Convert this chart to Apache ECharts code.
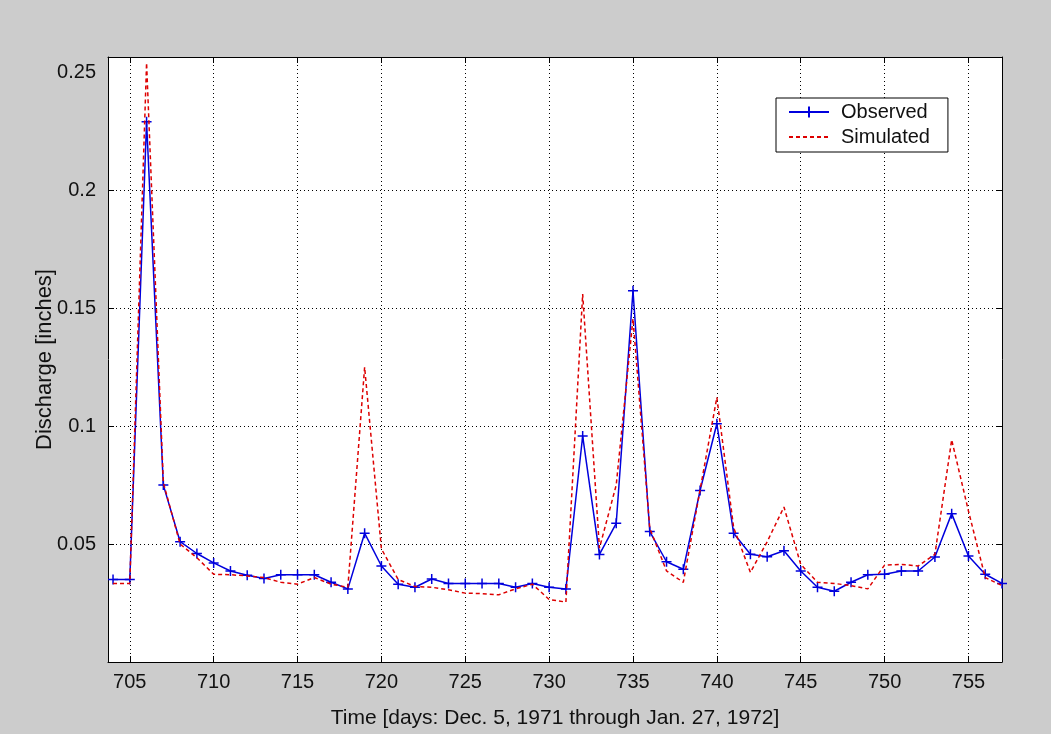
<!DOCTYPE html>
<html>
<head>
<meta charset="utf-8">
<script src="https://cdn.jsdelivr.net/npm/echarts@6/dist/echarts.min.js"></script>
<style>
html,body{margin:0;padding:0;background:#cccccc;}
#chart{width:1051px;height:734px;}
</style>
</head>
<body>
<div id="chart"></div>
<script>
var days = [704,705,706,707,708,709,710,711,712,713,714,715,716,717,718,719,720,721,722,723,724,725,726,727,728,729,730,731,732,733,734,735,736,737,738,739,740,741,742,743,744,745,746,747,748,749,750,751,752,753,754,755,756,757];
var observed = [0.035,0.035,0.229,0.075,0.051,0.046,0.042,0.0386,0.0368,0.0354,0.037,0.037,0.037,0.0338,0.031,0.0546,0.0407,0.033,0.0317,0.0352,0.0333,0.0333,0.0333,0.0333,0.0317,0.0333,0.0317,0.031,0.0958,0.0456,0.0588,0.1574,0.0553,0.0425,0.0393,0.0727,0.101,0.0546,0.0457,0.0446,0.0472,0.0386,0.0317,0.030,0.0338,0.037,0.0372,0.0386,0.0386,0.0445,0.0629,0.0449,0.0372,0.0333];
var simulated = [0.0333,0.0333,0.254,0.076,0.050,0.0442,0.0372,0.037,0.0365,0.0358,0.0338,0.033,0.0358,0.033,0.0317,0.125,0.048,0.035,0.032,0.0317,0.0306,0.0292,0.029,0.0285,0.031,0.033,0.0265,0.0254,0.156,0.0483,0.075,0.1456,0.0567,0.0386,0.0338,0.073,0.1122,0.057,0.038,0.051,0.0657,0.0414,0.0338,0.0333,0.0324,0.031,0.0411,0.0414,0.0407,0.0456,0.0942,0.064,0.0358,0.0324];
var xTicks = [705,710,715,720,725,730,735,740,745,750,755];
var yTickLabels = [0.05,0.1,0.15,0.2,0.25];
var yTickMarks = [0.05,0.1,0.15,0.2];
var xTitle = 'Time [days: Dec. 5, 1971 through Jan. 27, 1972]';
var yTitle = 'Discharge [inches]';

function pairs(xs, ys){ return xs.map(function(x,i){ return [x, ys[i]]; }); }

var FONT = "'Liberation Sans', Arial, Helvetica, sans-serif";
var chart = echarts.init(document.getElementById('chart'));
var XMIN = 703.7, XMAX = 757, YMIN = 0, YMAX = 0.2565;
var dotted = {color:'#000', width:1, type:[1,3]};

chart.setOption({
  backgroundColor:'#cccccc',
  animation:false,
  grid:{left:108, top:57, right:49, bottom:61, show:true, backgroundColor:'#ffffff', borderWidth:0},
  legend:{
    left:776, top:98, orient:'vertical',
    backgroundColor:'#ffffff', borderColor:'#000', borderWidth:1,
    padding:[4,18,5,12], itemWidth:40, itemHeight:14, itemGap:5,
    textStyle:{fontFamily:FONT, fontSize:20, color:'#111', lineHeight:20, padding:[0,0,0,7]},
    data:[{name:'Observed'},{name:'Simulated', itemStyle:{opacity:0}}]
  },
  xAxis:[{
    type:'value', min:XMIN, max:XMAX, position:'bottom',
    name:xTitle, nameLocation:'middle', nameGap:46,
    nameTextStyle:{fontFamily:FONT, fontSize:21, color:'#111'},
    axisLine:{show:true, onZero:false, lineStyle:{color:'#000', width:1}},
    axisTick:{show:true, inside:true, length:6, customValues:xTicks, lineStyle:{color:'#000'}},
    axisLabel:{customValues:xTicks, fontFamily:FONT, fontSize:20, color:'#111', margin:10},
    splitLine:{show:true, lineStyle:dotted}
  },{
    type:'value', min:XMIN, max:XMAX, position:'top',
    axisLine:{show:true, onZero:false, lineStyle:{color:'#000', width:1}},
    axisTick:{show:true, inside:true, length:6, customValues:xTicks, lineStyle:{color:'#000'}},
    axisLabel:{show:false},
    splitLine:{show:false}
  }],
  yAxis:[{
    type:'value', min:YMIN, max:YMAX, position:'left',
    name:yTitle, nameLocation:'middle', nameGap:52, nameRotate:90, nameMoveOverlap:false,
    nameTextStyle:{fontFamily:FONT, fontSize:22, color:'#111'},
    axisLine:{show:true, onZero:false, lineStyle:{color:'#000', width:1}},
    axisTick:{show:true, inside:true, length:6, customValues:yTickMarks, lineStyle:{color:'#000'}},
    axisLabel:{customValues:yTickLabels, fontFamily:FONT, fontSize:20, color:'#111', margin:12},
    splitLine:{show:true, lineStyle:dotted}
  },{
    type:'value', min:YMIN, max:YMAX, position:'right',
    axisLine:{show:true, onZero:false, lineStyle:{color:'#000', width:1}},
    axisTick:{show:true, inside:true, length:6, customValues:yTickMarks, lineStyle:{color:'#000'}},
    axisLabel:{show:false},
    splitLine:{show:false}
  }],
  series:[{
    name:'Observed', type:'line', xAxisIndex:0, yAxisIndex:0,
    data:pairs(days, observed),
    symbol:'path://M0,5L10,5M5,0L5,10', symbolSize:10, showAllSymbol:true,
    lineStyle:{color:'#0000dd', width:1.5},
    itemStyle:{color:'#0000dd', borderColor:'#0000dd', borderWidth:1.5},
    z:3
  },{
    name:'Simulated', type:'line', xAxisIndex:0, yAxisIndex:0,
    data:pairs(days, simulated),
    symbol:'none',
    lineStyle:{color:'#dd0000', width:1.5, type:[4,3]},
    itemStyle:{color:'#dd0000'},
    z:4
  }]
});
</script>
</body>
</html>
